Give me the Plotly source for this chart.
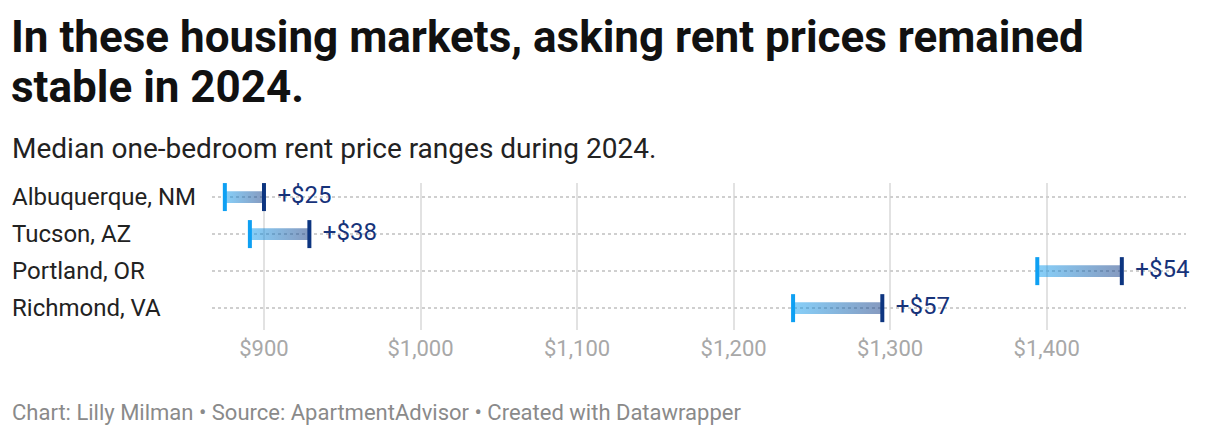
import plotly.graph_objects as go

cities = ["Albuquerque, NM", "Tucson, AZ", "Portland, OR", "Richmond, VA"]
low = [875, 891, 1394, 1238]
high = [900, 929, 1448, 1295]
change_labels = ["+$25", "+$38", "+$54", "+$57"]
tick_vals = [900, 1000, 1100, 1200, 1300, 1400]
tick_text = ["$900", "$1,000", "$1,100", "$1,200", "$1,300", "$1,400"]

W, H = 1220, 436
OFF = 8  # page body margin
ML, MR, MT, MB = 212 - OFF, 34 + OFF, 183 - OFF, 106 + OFF
PW = W - ML - MR
PH = H - MT - MB

def px(p):
    return (p - OFF - ML) / PW

def py(p):
    return (H - MB - (p - OFF)) / PH

fig = go.Figure()
half = 0.16
for i, (a, b) in enumerate(zip(low, high)):
    fig.add_trace(go.Scatter(
        x=[a, b, b, a, a], y=[i - half, i - half, i + half, i + half, i - half],
        mode="lines", line=dict(width=0), fill="toself",
        fillgradient=dict(type="horizontal",
                          colorscale=[[0, "rgba(14,160,243,0.5)"], [1, "rgba(13,53,128,0.5)"]]),
        hoverinfo="skip", showlegend=False))

ys = list(range(len(cities)))
fig.add_trace(go.Scatter(x=low, y=ys, mode="markers",
    marker=dict(symbol="line-ns", size=20, line=dict(width=4, color="#0ea0f3")),
    showlegend=False, hoverinfo="skip"))
fig.add_trace(go.Scatter(x=high, y=ys, mode="markers+text", text=change_labels,
    textposition="middle right", cliponaxis=False,
    textfont=dict(family="Roboto", size=24, color="#17337a"),
    marker=dict(symbol="line-ns", size=20, line=dict(width=4, color="#0d3580")),
    showlegend=False, hoverinfo="skip"))

for i, c in enumerate(cities):
    fig.add_annotation(x=px(12), xref="paper", y=i, yref="y",
                       text=c, showarrow=False, xanchor="left", yanchor="middle",
                       xshift=-2,
                       font=dict(family="Roboto", size=24, color="#222222"))

title_lines = ["In these housing markets, asking rent prices remained", "stable in 2024."]
for t, yc in zip(title_lines, [37, 87]):
    fig.add_annotation(x=px(12), xref="paper", y=py(yc), yref="paper", text=t,
                       showarrow=False, xanchor="left", yanchor="middle", xshift=-3,
                       font=dict(family="Roboto", size=44, color="#111111", weight="bold"))
fig.add_annotation(x=px(12), xref="paper", y=py(148), yref="paper",
                   text="Median one-bedroom rent price ranges during 2024.",
                   showarrow=False, xanchor="left", yanchor="middle", xshift=-2,
                   font=dict(family="Roboto", size=28, color="#222222"))
fig.add_annotation(x=px(12), xref="paper", y=py(412), yref="paper",
                   text="Chart: Lilly Milman • Source: ApartmentAdvisor • Created with Datawrapper",
                   showarrow=False, xanchor="left", yanchor="middle", xshift=-2,
                   font=dict(family="Roboto", size=22, color="#8a8a8a"))

fig.update_layout(
    width=W, height=H, margin=dict(l=ML, r=MR, t=MT, b=MB),
    plot_bgcolor="white", paper_bgcolor="white",
    xaxis=dict(range=[866.8, 1489], tickvals=tick_vals, ticktext=tick_text,
               showgrid=True, gridcolor="#e2e2e2", gridwidth=2, zeroline=False,
               showline=False, ticks="", ticklabelstandoff=3,
               tickfont=dict(family="Roboto", size=22, color="#a8a8a8")),
    yaxis=dict(range=[3.59, -0.38], tickvals=ys, showticklabels=False,
               showgrid=True, gridcolor="#cfcfcf", griddash="dot", gridwidth=1.5,
               zeroline=False, showline=False),
)
fig.write_html("out.html")
